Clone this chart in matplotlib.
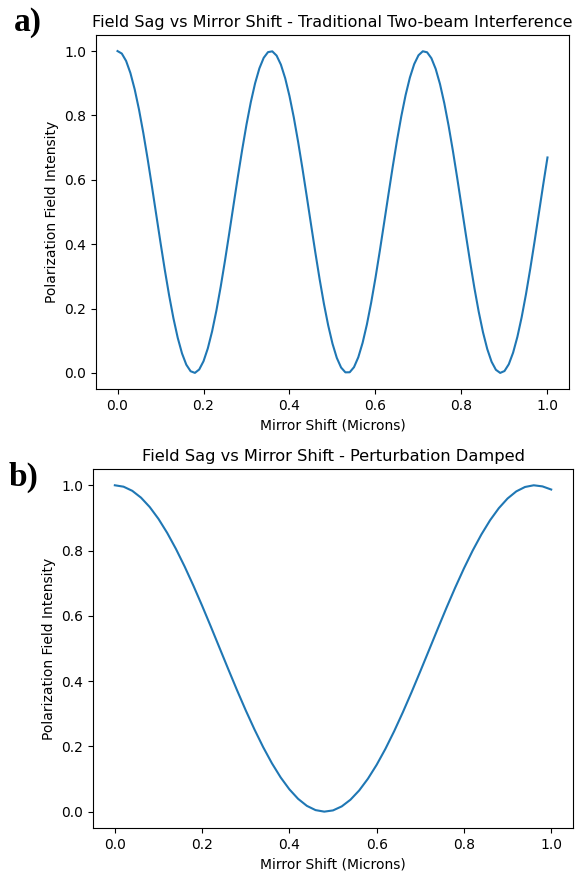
import matplotlib
matplotlib.use("Agg")
import matplotlib.pyplot as plt

# Panel a: Traditional two-beam interference (x step 0.01)
x_a = [i / 100 for i in range(101)]
y_a = [1.0000, 0.9922, 0.9693, 0.9317, 0.8808, 0.8181, 0.7455, 0.6654, 0.5801, 0.4923,
       0.4048, 0.3201, 0.2412, 0.1702, 0.1094, 0.0607, 0.0256, 0.0053, 0.0002, 0.0107,
       0.0363, 0.0762, 0.1293, 0.1939, 0.2680, 0.3493, 0.4352, 0.5232, 0.6103, 0.6939,
       0.7719, 0.8412, 0.9000, 0.9464, 0.9790, 0.9967, 0.9991, 0.9859, 0.9578, 0.9154,
       0.8601, 0.7938, 0.7183, 0.6361, 0.5497, 0.4618, 0.3749, 0.2918, 0.2152, 0.1477,
       0.0909, 0.0468, 0.0168, 0.0018, 0.0021, 0.0179, 0.0487, 0.0934, 0.1507, 0.2189,
       0.2957, 0.3789, 0.4658, 0.5536, 0.6400, 0.7221, 0.7973, 0.8631, 0.9177, 0.9594,
       0.9869, 0.9993, 0.9962, 0.9778, 0.9445, 0.8975, 0.8381, 0.7683, 0.6902, 0.6061,
       0.5188, 0.4310, 0.3452, 0.2642, 0.1906, 0.1265, 0.0740, 0.0347, 0.0098, 0.0001,
       0.0059, 0.0270, 0.0628, 0.1121, 0.1734, 0.2448, 0.3241, 0.4087, 0.4965, 0.5844,
       0.6694]

# Panel b: Perturbation damped (x step 0.02)
x_b = [i / 50 for i in range(51)]
y_b = [1.0000, 0.9957, 0.9830, 0.9621, 0.9333, 0.8971, 0.8541, 0.8051, 0.7510, 0.6926,
       0.6310, 0.5670, 0.5017, 0.4364, 0.3722, 0.3104, 0.2519, 0.1975, 0.1482, 0.1049,
       0.0684, 0.0392, 0.0178, 0.0047, 0.0000, 0.0038, 0.0161, 0.0366, 0.0650, 0.1009,
       0.1435, 0.1922, 0.2461, 0.3044, 0.3660, 0.4299, 0.4950, 0.5603, 0.6246, 0.6865,
       0.7452, 0.7998, 0.8493, 0.8930, 0.9299, 0.9595, 0.9813, 0.9948, 1.0000, 0.9966,
       0.9870]

title_a = "Field Sag vs Mirror Shift - Traditional Two-beam Interference"
title_b = "Field Sag vs Mirror Shift - Perturbation Damped"
xlabel = "Mirror Shift (Microns)"
ylabel = "Polarization Field Intensity"

fig = plt.figure(figsize=(5.77, 8.72), dpi=100)
ax1 = fig.add_axes([0.1664, 0.5539, 0.8197, 0.4060])
ax2 = fig.add_axes([0.1612, 0.0505, 0.8319, 0.4117])

for ax, x, y, t, fs in [(ax1, x_a, y_a, title_a, 11.5), (ax2, x_b, y_b, title_b, 11.7)]:
    ax.plot(x, y, color="#1f77b4", lw=1.5)
    ax.set_title(t, fontsize=fs)
    ax.set_xlabel(xlabel, fontsize=10)
    ax.set_ylabel(ylabel, fontsize=10)
    ax.set_xticks([0.0, 0.2, 0.4, 0.6, 0.8, 1.0])
    ax.set_yticks([0.0, 0.2, 0.4, 0.6, 0.8, 1.0])

fig.text(14 / 577, 1 - 22 / 872, "a)", fontsize=24, fontweight="bold",
         family="Liberation Serif", ha="left", va="center")
fig.text(9 / 577, 1 - 477 / 872, "b)", fontsize=24, fontweight="bold",
         family="Liberation Serif", ha="left", va="center")

fig.savefig("out.png", dpi=100)
